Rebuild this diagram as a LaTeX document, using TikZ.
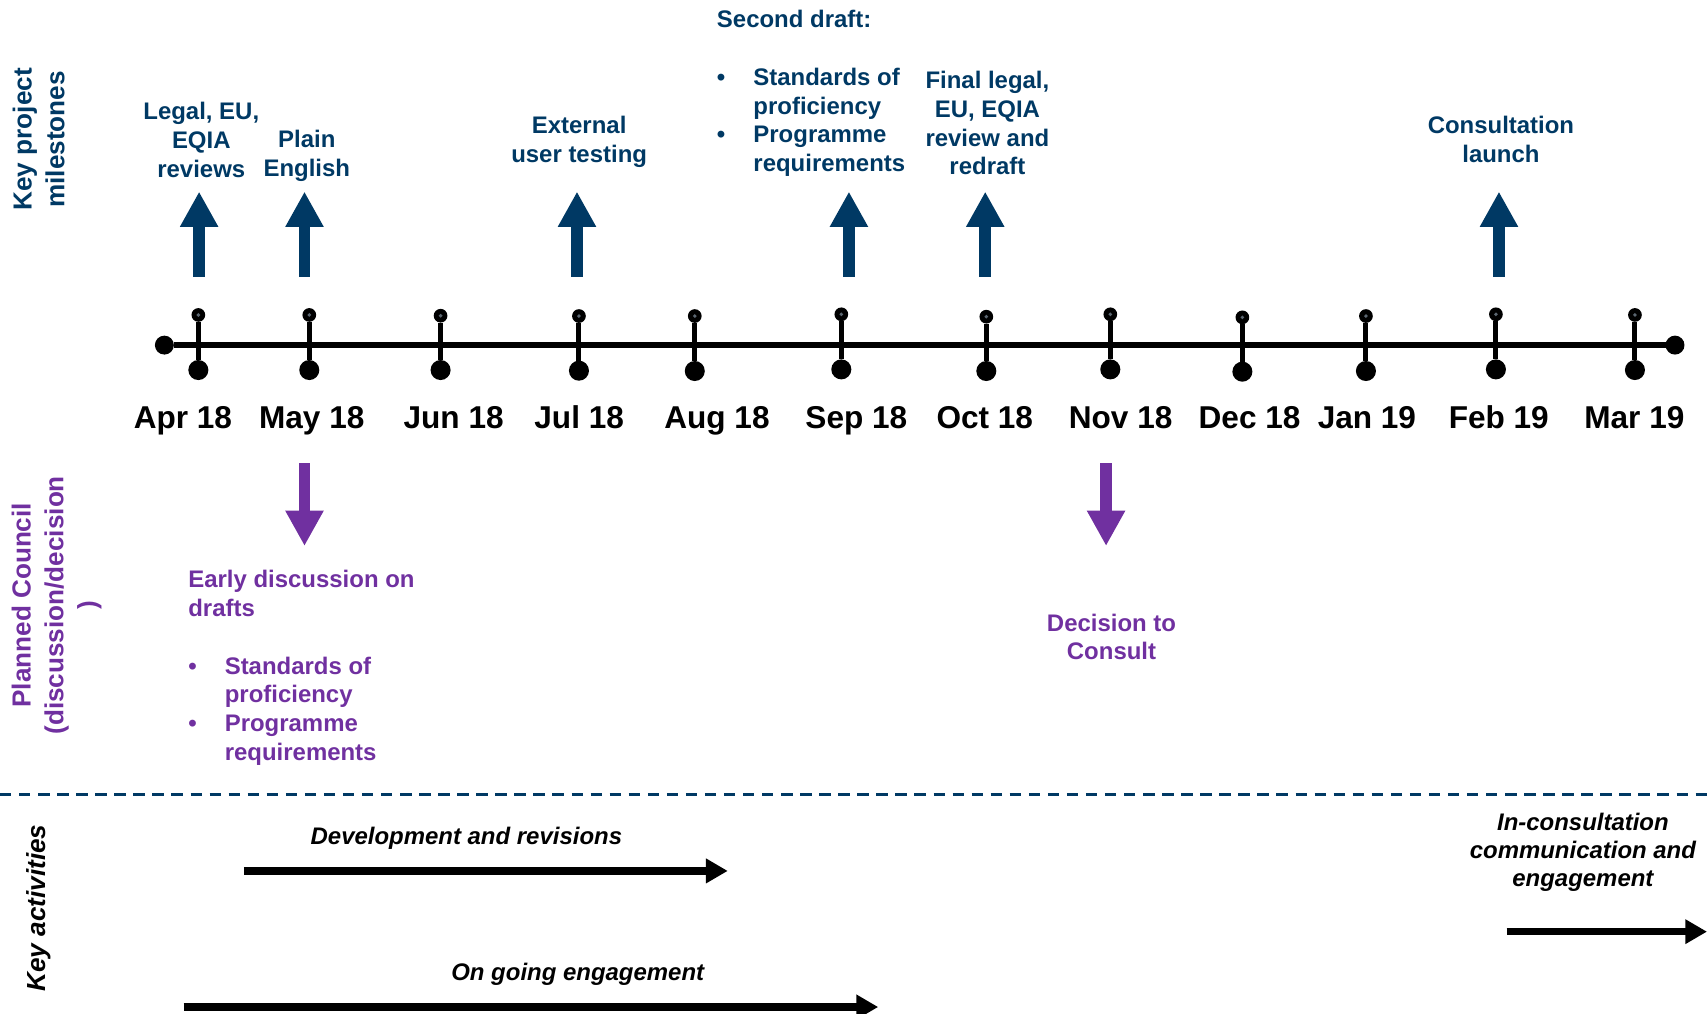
\documentclass[tikz,border=0pt]{standalone}
\usepackage{fontspec}
\setmainfont{Liberation Sans}
\usetikzlibrary{arrows.meta}
\definecolor{navy}{HTML}{003964}
\definecolor{purp}{HTML}{7030A0}
\definecolor{tickgray}{HTML}{5B6670}
\newcommand\msfont{\fontsize{22}{26.4}\selectfont\bfseries}
\newcommand\actfont{\fontsize{22}{25.5}\selectfont\bfseries\itshape}
\newcommand\monthfont{\fontsize{29}{34}\selectfont\bfseries}
\newcommand\sidefont{\fontsize{24}{30}\selectfont\bfseries}
\newcommand\bitem[1]{\makebox[33.5pt][l]{\textbullet}#1}
\newcommand\bcont[1]{\hspace*{33.5pt}#1}
\begin{document}
\begin{tikzpicture}[x=1pt,y=-1pt,
  every node/.style={inner sep=0pt, outer sep=0pt},
  msc/.style={font=\msfont, align=center, anchor=north, yshift=17.3pt},
  msl/.style={font=\msfont, align=left, anchor=north west, yshift=17.3pt},
  actc/.style={font=\actfont, align=center, anchor=north, yshift=16.8pt},
  actl/.style={font=\actfont, anchor=base},
  month/.style={font=\monthfont, anchor=base},
  side/.style={font=\sidefont, align=center, rotate=90},
  ring/.style={circle, fill=black, minimum size=12.6pt,
    path picture={\fill[tickgray] (path picture bounding box.center) circle (1.8pt);}},
  bigdot/.style={circle, fill=black, minimum size=18.4pt},
  enddot/.style={circle, fill=black, minimum size=17.4pt},
  mainline/.style={draw=black, line width=5.2pt},
  tickline/.style={draw=black, line width=4.6pt},
  uparrow/.style={draw=navy, line width=11pt, -{Triangle[length=32.5pt,width=33pt]}},
  downarrow/.style={draw=purp, line width=11pt, -{Triangle[length=32.5pt,width=33pt]}},
  actarrow/.style={draw=black, line width=7pt, -{Triangle[length=20pt,width=21.5pt]}},
  sepline/.style={draw=navy, line width=2.3pt, dash pattern=on 10.5pt off 7pt}
]
\useasboundingbox (0,0) rectangle (1568,931);

% ---- side labels
\node[side, text=navy] (kpm) at (35.5,128) {Key project\\milestones};
\node[side, text=purp] (pc) at (52,556) {Planned Council\\(discussion/decision\\)};
\node[side, font=\sidefont\itshape, text=black] (ka) at (35.2,834) {Key activities};

% ---- timeline
\node[enddot] (L) at (151,317) {};
\node[enddot] (R) at (1538.6,317) {};
\draw[mainline] (L) -- (R);

\foreach \n/\x/\yt/\yb in {1/182.2/289.3/339.9, 2/284.1/289.3/339.9, 3/404.7/290.0/339.9,
  4/531.8/290.3/340.5, 5/638.2/290.3/340.8, 6/772.8/288.7/339.3, 7/906.0/290.9/340.8,
  8/1019.9/288.7/339.3, 9/1141.2/291.5/341.4, 10/1254.7/290.3/340.8, 11/1374.1/288.7/339.3,
  12/1501.8/289.3/339.9}{
  \node[bigdot] (b\n) at (\x,\yb) {};
  \node[ring] (t\n) at (\x,\yt) {};
  \draw[tickline] (t\n) -- (b\n);
}

% ---- month labels
\node[month] (mApr) at (168,393.5) {Apr 18};
\node[month] (mMay) at (286.4,393.5) {May 18};
\node[month] (mJun) at (416.7,393.5) {Jun 18};
\node[month] (mJul) at (532,393.5) {Jul 18};
\node[month] (mAug) at (658.6,393.5) {Aug 18};
\node[month] (mSep) at (786.6,393.5) {Sep 18};
\node[month] (mOct) at (904.6,393.5) {Oct 18};
\node[month] (mNov) at (1029.4,393.5) {Nov 18};
\node[month] (mDec) at (1147.8,393.5) {Dec 18};
\node[month] (mJan) at (1255.6,393.5) {Jan 19};
\node[month] (mFeb) at (1376.7,393.5) {Feb 19};
\node[month] (mMar) at (1501.3,393.5) {Mar 19};

% ---- milestone texts
\node[msc, text=navy] (ms1) at (184.9,108.7) {\strut Legal, EU,\\EQIA\\reviews};
\node[msc, text=navy] (ms2) at (281.8,134.7) {\strut Plain\\English};
\node[msc, text=navy] (ms3) at (532,121.6) {\strut External\\user testing};
\node[msl, text=navy] (ms4) at (658.6,24.5) {\strut Second draft:\\ \mbox{}\\ \bitem{Standards of}\\ \bcont{proficiency}\\ \bitem{Programme}\\ \bcont{requirements}};
\node[msc, text=navy] (ms5) at (907,80.2) {\strut Final legal,\\EU, EQIA\\review and\\redraft};
\node[msc, text=navy] (ms6) at (1378.7,121.9) {\strut Consultation\\launch};

% ---- milestone arrows
\foreach \n/\x in {1/182.9, 2/279.7, 3/530, 4/779.8, 5/905, 6/1376.9}{
  \coordinate (ua\n) at (\x,254);
  \coordinate (ub\n) at (\x,176);
  \draw[uparrow] (ua\n) -- (ub\n);
}

% ---- council
\coordinate (da1) at (279.7,425.6);
\coordinate (db1) at (279.7,501.5);
\draw[downarrow] (da1) -- (db1);
\coordinate (da2) at (1016,425.6);
\coordinate (db2) at (1016,501.5);
\draw[downarrow] (da2) -- (db2);
\node[msl, text=purp] (c1) at (173,538.9) {\strut Early discussion on\\ drafts\\ \mbox{}\\ \bitem{Standards of}\\ \bcont{proficiency}\\ \bitem{Programme}\\ \bcont{requirements}};
\node[msc, text=purp] (c2) at (1021,578.5) {\strut Decision to\\Consult};

% ---- separator
\coordinate (sl) at (0,730);
\coordinate (sr) at (1568,730);
\draw[sepline] (sl) -- (sr);

% ---- key activities
\node[actl] (a1) at (428.4,776) {Development and revisions};
\coordinate (a1s) at (224,800);
\coordinate (a1e) at (668.5,800);
\draw[actarrow] (a1s) -- (a1e);
\node[actl] (a2) at (530.7,900.5) {On going engagement};
\coordinate (a2s) at (168.7,925);
\coordinate (a2e) at (806.7,925);
\draw[actarrow] (a2s) -- (a2e);
\node[actc] (a3) at (1454,761.8) {\strut In-consultation\\communication and\\engagement};
\coordinate (a3s) at (1384,855.8);
\coordinate (a3e) at (1568,855.8);
\draw[actarrow] (a3s) -- (a3e);
\end{tikzpicture}
\end{document}
